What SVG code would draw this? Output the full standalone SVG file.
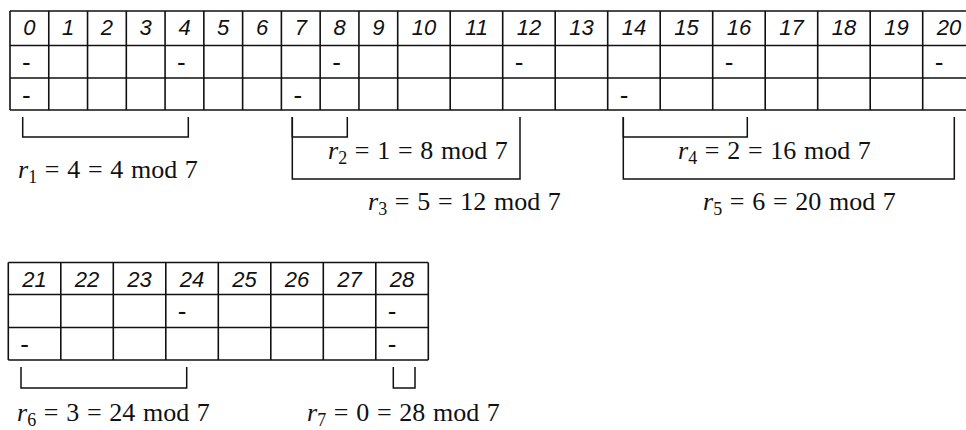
<svg xmlns="http://www.w3.org/2000/svg" width="966" height="430" viewBox="0 0 966 430">
<style>
.grid{fill:none;stroke:#111;stroke-width:1.6}
.br{fill:none;stroke:#111;stroke-width:1.5}
.hd{font-family:"Liberation Sans",Arial,sans-serif;font-style:italic;font-size:22px;fill:#111;text-anchor:middle}
.ds{font-family:"Liberation Sans",Arial,sans-serif;font-size:26px;fill:#111}
.lb{font-family:"Liberation Serif","Times New Roman",serif;font-size:26px;fill:#111;word-spacing:1.2px}
.it{font-style:italic}
.sb{font-size:18px}
</style>
<rect width="966" height="430" fill="#fff"/>
<g id="table1">
<path class="grid" d="M10,11H975M10,45.5H975M10,78H975M10,110H975M10,11V110M48.77,11V110M87.54,11V110M126.31,11V110M165.08,11V110M203.85,11V110M242.62,11V110M281.39,11V110M320.16,11V110M358.93,11V110M397.7,11V110M450.2,11V110M502.7,11V110M555.2,11V110M607.7,11V110M660.2,11V110M712.7,11V110M765.2,11V110M817.7,11V110M870.2,11V110M922.7,11V110M975.2,11V110"/>
<g class="hd">
<text x="29.4" y="35">0</text><text x="68.2" y="35">1</text><text x="106.9" y="35">2</text><text x="145.7" y="35">3</text><text x="184.5" y="35">4</text><text x="223.2" y="35">5</text><text x="262" y="35">6</text><text x="300.8" y="35">7</text><text x="339.5" y="35">8</text><text x="378.3" y="35">9</text><text x="424" y="35">10</text><text x="476.5" y="35">11</text><text x="529" y="35">12</text><text x="581.5" y="35">13</text><text x="634" y="35">14</text><text x="686.5" y="35">15</text><text x="739" y="35">16</text><text x="791.5" y="35">17</text><text x="844" y="35">18</text><text x="896.5" y="35">19</text><text x="949" y="35">20</text>
</g>
<g class="ds">
<text x="22" y="71.3">-</text><text x="177.1" y="71.3">-</text><text x="332.2" y="71.3">-</text><text x="514.7" y="71.3">-</text><text x="724.7" y="71.3">-</text><text x="934.7" y="71.3">-</text>
<text x="22" y="104.3">-</text><text x="293.4" y="104.3">-</text><text x="619.7" y="104.3">-</text>
</g>
</g>
<g id="table2">
<path class="grid" d="M8.3,262.5H428.3M8.3,294.5H428.3M8.3,327.5H428.3M8.3,360H428.3M8.3,262.5V360M60.8,262.5V360M113.3,262.5V360M165.8,262.5V360M218.3,262.5V360M270.8,262.5V360M323.3,262.5V360M375.8,262.5V360M428.3,262.5V360"/>
<g class="hd">
<text x="34.6" y="286.7">21</text><text x="87.1" y="286.7">22</text><text x="139.6" y="286.7">23</text><text x="192.1" y="286.7">24</text><text x="244.6" y="286.7">25</text><text x="297.1" y="286.7">26</text><text x="349.6" y="286.7">27</text><text x="402.1" y="286.7">28</text>
</g>
<g class="ds">
<text x="177.8" y="320">-</text><text x="387.8" y="320">-</text>
<text x="20.3" y="353.3">-</text><text x="387.8" y="353.3">-</text>
</g>
</g>
<g id="connectors">
<path class="br" d="M22.7,117V137H188.3V117"/>
<path class="br" d="M292.3,117V137H347.3V117"/>
<path class="br" d="M292.3,117V179H520V117"/>
<path class="br" d="M623.3,117V137H747.3V117"/>
<path class="br" d="M623.3,117V179H954.3V117"/>
<path class="br" d="M21,367V388H186.7V367"/>
<path class="br" d="M393.3,367V388H415V367"/>
</g>
<g id="labels" class="lb">
<text id="r1" x="18" y="178" xml:space="preserve"><tspan class="it">r</tspan><tspan class="sb" dy="5">1</tspan><tspan dy="-5"> = 4 = 4 mod 7</tspan></text>
<text id="r2" x="328" y="159" xml:space="preserve"><tspan class="it">r</tspan><tspan class="sb" dy="5">2</tspan><tspan dy="-5"> = 1 = 8 mod 7</tspan></text>
<text id="r3" x="368" y="210" xml:space="preserve"><tspan class="it">r</tspan><tspan class="sb" dy="5">3</tspan><tspan dy="-5"> = 5 = 12 mod 7</tspan></text>
<text id="r4" x="678" y="159" xml:space="preserve"><tspan class="it">r</tspan><tspan class="sb" dy="5">4</tspan><tspan dy="-5"> = 2 = 16 mod 7</tspan></text>
<text id="r5" x="703" y="210" xml:space="preserve"><tspan class="it">r</tspan><tspan class="sb" dy="5">5</tspan><tspan dy="-5"> = 6 = 20 mod 7</tspan></text>
<text id="r6" x="17" y="421" xml:space="preserve"><tspan class="it">r</tspan><tspan class="sb" dy="5">6</tspan><tspan dy="-5"> = 3 = 24 mod 7</tspan></text>
<text id="r7" x="307" y="421" xml:space="preserve"><tspan class="it">r</tspan><tspan class="sb" dy="5">7</tspan><tspan dy="-5"> = 0 = 28 mod 7</tspan></text>
</g>
</svg>
